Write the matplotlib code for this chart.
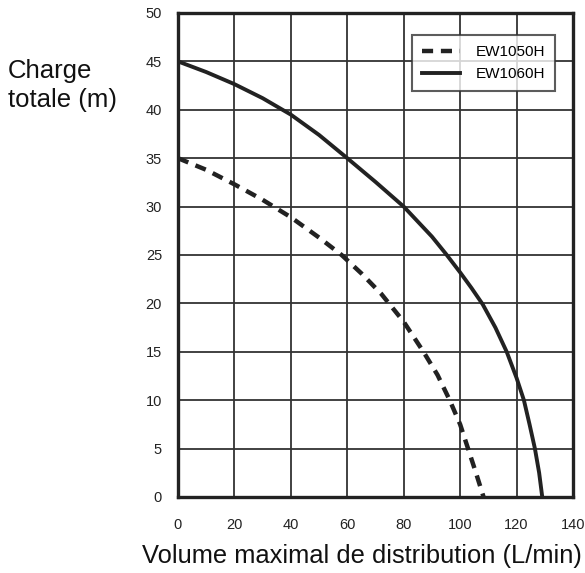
import matplotlib
matplotlib.use("Agg")
import matplotlib.pyplot as plt

plt.rcParams['font.family'] = ['Liberation Sans', 'DejaVu Sans']

# Data
ew1050_x = [0, 10, 20, 30, 40, 50, 58, 65, 72, 80, 87, 92, 96.3, 100, 102.8, 105.6, 108.3]
ew1050_y = [35, 33.8, 32.3, 30.7, 28.9, 26.8, 25, 23.1, 21.0, 18.1, 15, 12.6, 10, 7.5, 5, 2.5, 0]

ew1060_x = [0, 10, 20, 30, 40, 50, 60, 70, 80, 90, 95, 100, 104, 108, 112.5,
            116.5, 120, 122.6, 124.6, 126.5, 128, 129.1]
ew1060_y = [45, 43.9, 42.65, 41.2, 39.5, 37.4, 35, 32.55, 30, 26.9, 25.1, 23.2, 21.6, 19.9, 17.5,
            15, 12.3, 10, 7.5, 5, 2.5, 0]

x_ticks = [0, 20, 40, 60, 80, 100, 120, 140]
y_ticks = [0, 5, 10, 15, 20, 25, 30, 35, 40, 45, 50]

W, H = 585, 573
fig = plt.figure(figsize=(W/100, H/100), dpi=100)
ax = fig.add_axes([178/W, 1-497/H, (573-178)/W, (497-13)/H])

ax.plot(ew1050_x, ew1050_y, color='#222222', lw=3.2, ls=(0, (2.5, 1.75)),
        solid_joinstyle='round', label='EW1050H')
ax.plot(ew1060_x, ew1060_y, color='#222222', lw=2.8, solid_joinstyle='round',
        label='EW1060H')

ax.set_xlim(0, 140)
ax.set_ylim(0, 50)
ax.set_xticks(x_ticks)
ax.set_yticks(y_ticks)
ax.grid(True, color='#333333', lw=1.3)
ax.set_axisbelow(True)
ax.tick_params(length=0, labelsize=10.5, colors='#222222')
ax.tick_params(axis='y', pad=11.5)
ax.tick_params(axis='x', pad=15)
for s in ax.spines.values():
    s.set_linewidth(2.4)
    s.set_color('#222222')

fig.text(362/W, 1-563/H, 'Volume maximal de distribution (L/min)', fontsize=18.4,
         ha='center', va='baseline', color='#111111')
fig.text(8/W, 1-77.7/H, 'Charge', fontsize=18.5, ha='left', va='baseline', color='#111111')
fig.text(8/W, 1-106.7/H, 'totale (m)', fontsize=18.5, ha='left', va='baseline', color='#111111')

leg = ax.legend(loc='upper right', bbox_to_anchor=(555/W, 1-35/H),
                bbox_transform=fig.transFigure, fontsize=11, frameon=True,
                fancybox=False, edgecolor='#333333', handlelength=2.5,
                handletextpad=1.0, borderpad=0.65, labelspacing=0.55,
                borderaxespad=0)
leg.get_frame().set_linewidth(1.5)

fig.savefig('out.png', dpi=100, facecolor='white')
